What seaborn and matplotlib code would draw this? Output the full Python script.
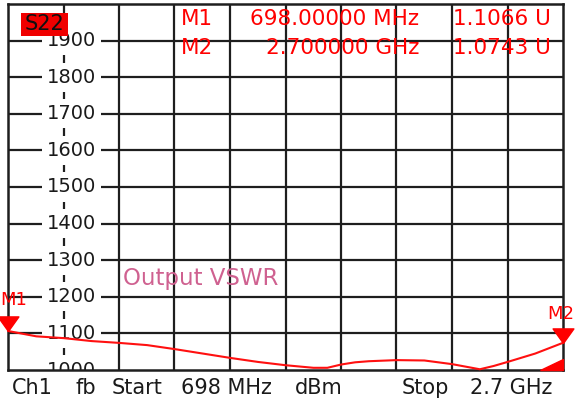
import numpy as np
import pandas as pd
import seaborn as sns
import matplotlib.pyplot as plt
from matplotlib.transforms import blended_transform_factory

# trace (MHz, VSWR in milli-units)
freq_mhz = [698, 800, 900, 1000, 1100, 1200, 1300, 1400, 1500, 1600, 1700,
            1800, 1850, 1900, 1950, 2000, 2100, 2200, 2250, 2300, 2400,
            2450, 2500, 2600, 2700]
vswr_mu = [1106.6, 1092, 1087, 1079, 1074, 1068, 1057, 1045, 1033, 1022, 1013,
           1006, 1006, 1015, 1021, 1024, 1027, 1026, 1021, 1016, 1002,
           1011, 1022, 1045, 1074.3]

y_ticks = [1000, 1100, 1200, 1300, 1400, 1500, 1600, 1700, 1800, 1900]
markers = ["M1", "M2"]
marker_freq = [698, 2700]
marker_val = [1106.6, 1074.3]
marker_freq_txt = ["698.00000 MHz", "2.700000 GHz"]
marker_val_txt = ["1.1066 U", "1.0743 U"]

x_start, x_stop = 698, 2700
y_bot, y_top = 1000, 2000

df = pd.DataFrame({"freq": freq_mhz, "vswr": vswr_mu})

sns.set_style("white")
plt.rcParams['font.family'] = ['DejaVu Sans']

W, H = 577, 401
fig = plt.figure(figsize=(W / 100, H / 100), dpi=100)
ax = fig.add_axes([8 / W, 31 / H, 555 / W, 366 / H])


def fx(px):
    return px / W


def fy(py):
    return 1 - py / H


grid_c = "#1e1e1e"
ax.set_xlim(x_start, x_stop)
ax.set_ylim(y_bot, y_top)
ax.set_xticks([])
ax.set_yticks([])
for s in ax.spines.values():
    s.set_color(grid_c)
    s.set_linewidth(1.8)

# graticule: 10 x 10
xg = np.linspace(x_start, x_stop, 11)
ax.vlines([xg[i] for i in range(2, 10)], y_bot, y_top, color=grid_c, lw=1.6, zorder=1)
ax.hlines(y_ticks[1:], x_start, x_stop, color=grid_c, lw=1.6, zorder=1)
# column 1 is only dashes between the scale labels
mids = [v + 50 for v in y_ticks]
ax.vlines([xg[1]] * len(mids), [m - 10 for m in mids], [m + 10 for m in mids],
          color=grid_c, lw=1.6, zorder=1)
ax.vlines(xg[1], 1955, y_top, color=grid_c, lw=1.6, zorder=1)

# scale labels inside the grid
tr = blended_transform_factory(ax.transAxes, ax.transData)
for v in y_ticks:
    ax.text(0.114, v, str(v), transform=tr, ha="center", va="center",
            fontsize=14, color="#1a1a1a", zorder=2, clip_on=True,
            bbox=dict(facecolor="white", edgecolor="none", pad=3.5))

# trace
sns.lineplot(data=df, x="freq", y="vswr", ax=ax, color="#ff1010", lw=1.5,
             zorder=4, clip_on=False)
ax.set_xlabel("")
ax.set_ylabel("")

# marker triangles, tip on the trace
tri = [(0, 0), (-1, 1.4), (1, 1.4), (0, 0)]
for f, v in zip(marker_freq, marker_val):
    ax.plot([f], [v], marker=tri, markersize=21, color="#ff0000",
            ls="none", zorder=5, clip_on=False)
fig.text(fx(0), fy(300), markers[0], ha="left", va="center", fontsize=13, color="#ff0000")
fig.text(fx(547), fy(314), markers[1], ha="left", va="center", fontsize=13, color="#ff0000")

# small wedge in the lower right corner
ax.fill([0.958, 1.0, 1.0], [0.0, 0.0, 0.03], color="#ff0000", transform=ax.transAxes,
        zorder=5, clip_on=False)

# marker readout
rows_y = [19, 48]
for i in range(2):
    fig.text(fx(181), fy(rows_y[i]), markers[i], ha="left", va="center",
             fontsize=15.5, color="#ff0000", zorder=6)
    fig.text(fx(419), fy(rows_y[i]), marker_freq_txt[i], ha="right", va="center",
             fontsize=15.5, color="#ff0000", zorder=6)
    fig.text(fx(551), fy(rows_y[i]), marker_val_txt[i], ha="right", va="center",
             fontsize=15.5, color="#ff0000", zorder=6)

# S22 tag
fig.patches.append(plt.Rectangle((fx(21), fy(36)), 47 / W, 23 / H, transform=fig.transFigure,
                                 facecolor="#f00000", edgecolor="none", zorder=5))
fig.text(fx(44.5), fy(24.5), "S22", ha="center", va="center", fontsize=15,
         color="#101010", zorder=6)

fig.text(fx(123), fy(278), "Output VSWR", ha="left", va="center", fontsize=16.5,
         color="#cf6190", zorder=6)

# bottom status line
bottom = [("Ch1", 12), ("fb", 75), ("Start", 112), ("698 MHz", 181),
          ("dBm", 295), ("Stop", 402), ("2.7 GHz", 470)]
for txt, px in bottom:
    fig.text(fx(px), fy(388), txt, ha="left", va="center", fontsize=15, color="#1a1a1a")

fig.savefig("out.png", dpi=100)
